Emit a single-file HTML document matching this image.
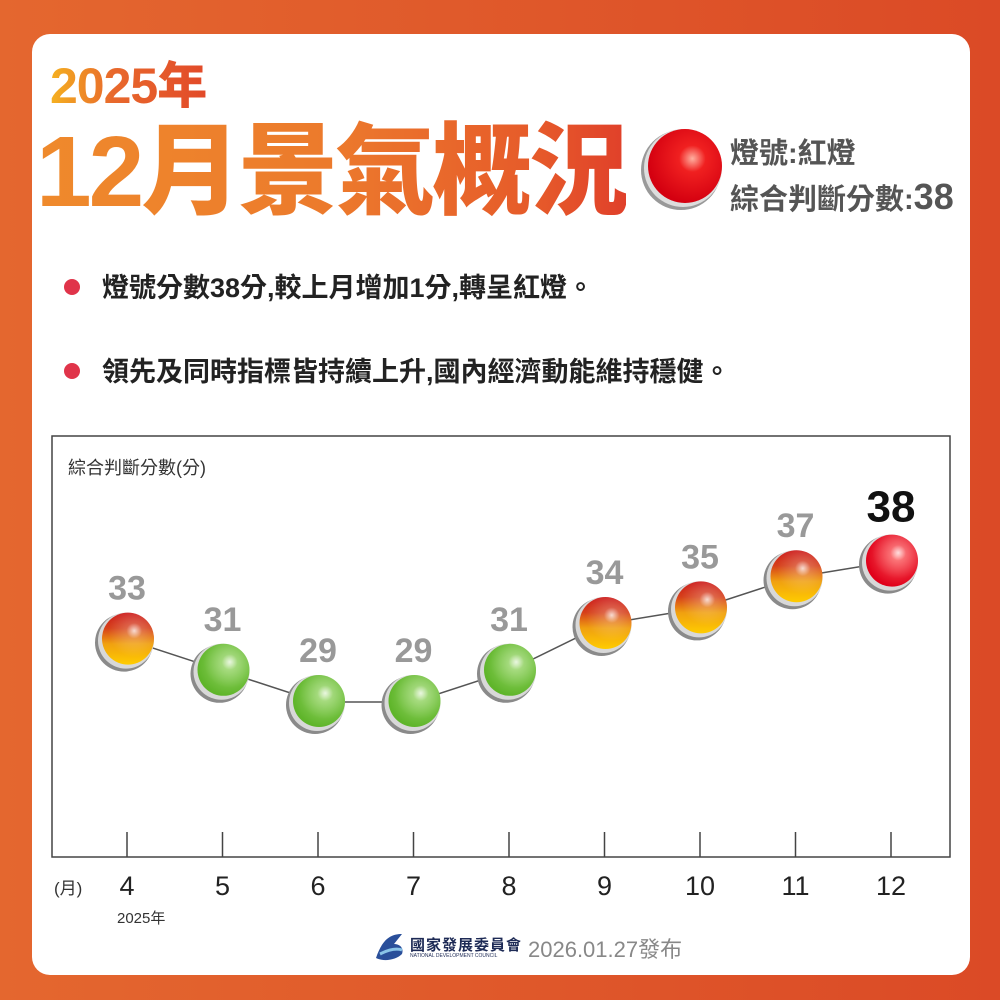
<!DOCTYPE html>
<html><head><meta charset="utf-8">
<style>
body{margin:0;width:1000px;height:1000px;overflow:hidden;background:linear-gradient(90deg,#e4672f,#db4a26);font-family:"Liberation Sans","Noto Sans CJK TC",sans-serif;}
.card{position:absolute;left:32px;top:34px;width:938px;height:941px;background:#fff;border-radius:18px;}
.t1{position:absolute;left:50px;top:56px;font-size:50px;font-weight:900;line-height:60px;letter-spacing:-1px;background:linear-gradient(90deg,#f5b120,#e8692c 40%,#e24a29);-webkit-background-clip:text;color:transparent;font-family:"Liberation Sans","Noto Sans CJK TC",sans-serif;}
.t2{position:absolute;left:36px;top:112px;font-size:100px;font-weight:900;line-height:120px;letter-spacing:-3px;background:linear-gradient(90deg,#ef8a2c,#ec7a2c 50%,#e65a2a 85%,#e0402a);-webkit-background-clip:text;color:transparent;}
.side{position:absolute;left:730px;color:#555;font-weight:700;font-size:29px;}
.bul{position:absolute;left:64px;font-size:27px;font-weight:700;color:#222;}
.bul span.d{display:inline-block;width:16px;height:16px;border-radius:50%;background:#e0344a;margin-right:22px;vertical-align:2px;}
</style></head><body>
<div class="card"></div>
<div class="t1">2025年</div>
<div class="t2">12月景氣概況</div>
<svg style="position:absolute;left:640px;top:123px" width="90" height="90">
<defs><radialGradient id="rg0" cx="0.6" cy="0.4" r="0.6"><stop offset="0" stop-color="#ffb0a0"/><stop offset="0.3" stop-color="#f02020"/><stop offset="1" stop-color="#d40010"/></radialGradient></defs>
<circle cx="41" cy="47" r="40" fill="#999"/><circle cx="43" cy="45" r="39" fill="#ddd"/><circle cx="45" cy="43" r="37" fill="url(#rg0)"/></svg>
<div class="side" style="top:130px">燈號:紅燈</div>
<div class="side" style="top:176px">綜合判斷分數:<span style="font-size:36px;color:#555">38</span></div>
<div class="bul" style="top:266px"><span class="d"></span>燈號分數38分,較上月增加1分,轉呈紅燈。</div>
<div class="bul" style="top:350px"><span class="d"></span>領先及同時指標皆持續上升,國內經濟動能維持穩健。</div>
<svg id="chart" style="position:absolute;left:0;top:0" width="1000" height="1000">
<defs>
<radialGradient id="hl" cx="0.62" cy="0.35" r="0.5"><stop offset="0" stop-color="#fff" stop-opacity="0.8"/><stop offset="0.3" stop-color="#fff" stop-opacity="0.2"/><stop offset="1" stop-color="#fff" stop-opacity="0"/></radialGradient>
<linearGradient id="gy" x1="0" y1="0" x2="0" y2="1"><stop offset="0" stop-color="#cc1b1b"/><stop offset="0.3" stop-color="#d6401a"/><stop offset="0.6" stop-color="#f0a010"/><stop offset="1" stop-color="#ffcc00"/></linearGradient>
<radialGradient id="gr" cx="0.6" cy="0.4" r="0.6"><stop offset="0" stop-color="#9ad86a"/><stop offset="1" stop-color="#5fb52a"/></radialGradient>
<radialGradient id="rd" cx="0.6" cy="0.4" r="0.6"><stop offset="0" stop-color="#ff6060"/><stop offset="1" stop-color="#e0001a"/></radialGradient>
</defs>
<rect x="52" y="436" width="898" height="421" fill="none" stroke="#444" stroke-width="1.5"/>
<text x="68" y="474" font-size="18" fill="#333">綜合判斷分數(分)</text>
<text x="54" y="894" font-size="17" fill="#333">(月)</text>
<text x="117" y="923" font-size="15" fill="#333">2025年</text>
<g id="ticks"></g><g id="line"></g><g id="balls"></g>
</svg>
<svg style="position:absolute;left:372px;top:930px" width="36" height="34"><path d="M4 28 C10 10 18 4 30 4 L22 14 C28 14 32 18 30 24 C24 30 12 32 4 28Z" fill="#2a4f9a"/><path d="M8 24 C16 20 24 18 30 20" stroke="#8ac4e8" stroke-width="3" fill="none"/></svg>
<div style="position:absolute;left:410px;top:934px;font-size:15px;font-weight:700;color:#1d2a55;letter-spacing:1px">國家發展委員會</div>
<div style="position:absolute;left:410px;top:953px;font-size:5px;color:#1d2a55">NATIONAL DEVELOPMENT COUNCIL</div>
<div style="position:absolute;left:528px;top:932px;font-size:22px;color:#888">2026.01.27發布</div>
<script>
const months=["4","5","6","7","8","9","10","11","12"];
const scores=[33,31,29,29,31,34,35,37,38];
const lights=["yr","g","g","g","g","yr","yr","yr","r"];
const NS="http://www.w3.org/2000/svg";
function xS(i){return 127+i*95.5;}
function yS(v){return 702-(v-29)*15.6;}
function mk(tag,attrs,parent){const e=document.createElementNS(NS,tag);for(const k in attrs)e.setAttribute(k,attrs[k]);parent.appendChild(e);return e;}
const tg=document.getElementById('ticks'),lg=document.getElementById('line'),bg=document.getElementById('balls');
months.forEach((m,i)=>{
 const t=mk('line',{x1:xS(i),x2:xS(i),y1:832,y2:857,stroke:'#444','stroke-width':1.5},tg);
 
 
 const l=mk('text',{x:xS(i),y:895,'text-anchor':'middle','font-size':27,fill:'#222'},tg);
 l.textContent=m;
 
 
});
let pts=scores.map((v,i)=>xS(i)+','+yS(v)).join(' ');
const pl=mk('polyline',{points:pts,fill:'none',stroke:'#555','stroke-width':1.5},lg);


scores.forEach((v,i)=>{
 const x=xS(i),y=yS(v);
 const g=mk('g',{},bg);
 
 
 mk('circle',{cx:x-3,cy:y+3,r:29,fill:'#8a8a8a'},g);
 mk('circle',{cx:x-1,cy:y+1,r:28,fill:'#d8d8d8'},g);
 const f=lights[i]==='g'?'url(#gr)':lights[i]==='r'?'url(#rd)':'url(#gy)';
 mk('circle',{cx:x+1,cy:y-1,r:26,fill:f},g);
 mk('circle',{cx:x+1,cy:y-1,r:26,fill:'url(#hl)'},g);
 const last=i===scores.length-1;
 const t=mk('text',{x:x,y:y-40,'text-anchor':'middle','font-size':last?44:34,'font-weight':'bold',fill:last?'#111':'#999'},g);
 t.textContent=v;
 
 
});
</script>
</body></html>
